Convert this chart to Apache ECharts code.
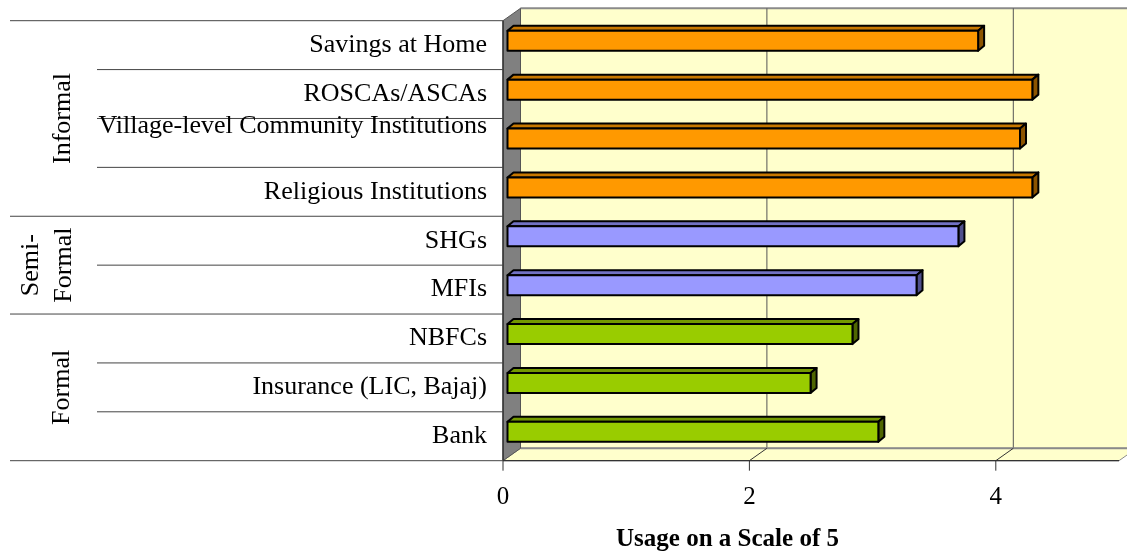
<!DOCTYPE html>
<html>
<head>
<meta charset="utf-8">
<script src="https://cdn.jsdelivr.net/npm/echarts@6/dist/echarts.min.js"></script>
<style>
  html, body { margin: 0; padding: 0; background: #fff; }
  #chart { width: 1127px; height: 557px; }
</style>
</head>
<body>
<div id="chart"></div>
<script>
const categories = ['Savings at Home', 'ROSCAs/ASCAs', 'Village-level Community Institutions', 'Religious Institutions', 'SHGs', 'MFIs', 'NBFCs', 'Insurance (LIC, Bajaj)', 'Bank'];
const usage = [3.82, 4.26, 4.16, 4.26, 3.66, 3.32, 2.80, 2.46, 3.01];
const groupNames = ['Informal', 'Semi-\nFormal', 'Formal'];
const groupOf = [0, 0, 0, 0, 1, 1, 2, 2, 2];
const xTicks = [0, 2, 4];

// styles
const FONT = '"Liberation Serif", "Times New Roman", serif';
const groupColors = [
    { front: '#FF9900', top: '#C87800', side: '#8C5400' },
    { front: '#9999FF', top: '#7272C4', side: '#50508C' },
    { front: '#99CC00', top: '#739900', side: '#4F6600' }
];
const groupLabelX = [63, 48, 62];
const DX = 17.5, DY = -12.4;          // depth of the walls
const BAR_OFF_X = 4.5, BAR_OFF_Y = -4.4;
const BAR_H = 20, BDX = 6, BDY = -5;

const chart = echarts.init(document.getElementById('chart'));

function renderWalls(params, api) {
    const cs = params.coordSys;
    const left = cs.x, top = cs.y, right = cs.x + cs.width, bottom = cs.y + cs.height;
    const children = [];
    // back wall
    children.push({ type: 'rect', shape: { x: left + DX, y: top + DY, width: cs.width, height: cs.height },
        style: { fill: '#FFFFCC' } });
    children.push({ type: 'line', shape: { x1: left + DX, y1: top + DY, x2: right + DX, y2: top + DY },
        style: { stroke: '#8a8a8a', lineWidth: 2 } });
    // back grid lines
    xTicks.forEach(t => {
        if (t === 0) return;
        const x = api.coord([t, 0])[0];
        children.push({ type: 'line', shape: { x1: x + DX, y1: top + DY, x2: x + DX, y2: bottom + DY },
            style: { stroke: '#555', lineWidth: 1 } });
    });
    // floor
    children.push({ type: 'polygon', shape: { points: [[left, bottom], [right, bottom], [right + DX, bottom + DY], [left + DX, bottom + DY]] },
        style: { fill: '#FFFFCC', stroke: '#8a8a8a', lineWidth: 1 } });
    children.push({ type: 'line', shape: { x1: left + DX, y1: bottom + DY, x2: right + DX, y2: bottom + DY },
        style: { stroke: '#8a8a8a', lineWidth: 2 } });
    xTicks.forEach(t => {
        const x = api.coord([t, 0])[0];
        if (t !== 0) {
            children.push({ type: 'line', shape: { x1: x, y1: bottom, x2: x + DX, y2: bottom + DY },
                style: { stroke: '#333', lineWidth: 1 } });
        }
        children.push({ type: 'line', shape: { x1: x, y1: bottom, x2: x, y2: bottom + 10 },
            style: { stroke: '#333', lineWidth: 1 } });
    });
    // side wall
    children.push({ type: 'polygon', shape: { points: [[left, top], [left + DX, top + DY], [left + DX, bottom + DY], [left, bottom]] },
        style: { fill: '#808080', stroke: '#555', lineWidth: 1 } });
    // front edges
    children.push({ type: 'line', shape: { x1: left, y1: top, x2: left, y2: bottom }, style: { stroke: '#222', lineWidth: 1.2 } });
    children.push({ type: 'line', shape: { x1: left, y1: bottom, x2: right, y2: bottom }, style: { stroke: '#333', lineWidth: 1.2 } });
    return { type: 'group', children };
}

function renderTable(params, api) {
    const cs = params.coordSys;
    const band = api.size([0, 1])[1];
    const children = [];
    const boundaryY = k => (k < categories.length ? api.coord([0, k])[1] - band / 2 : cs.y + cs.height);
    for (let k = 0; k <= categories.length; k++) {
        const isGroupEdge = k === 0 || k === categories.length || groupOf[k] !== groupOf[k - 1];
        const y = boundaryY(k);
        children.push({ type: 'line', shape: { x1: isGroupEdge ? 10 : 97, y1: y, x2: cs.x, y2: y },
            style: { stroke: '#444', lineWidth: 1 } });
    }
    groupNames.forEach((name, g) => {
        const first = groupOf.indexOf(g), last = groupOf.lastIndexOf(g);
        const y = (boundaryY(first) + boundaryY(last + 1)) / 2;
        children.push({ type: 'text', x: groupLabelX[g], y, rotation: Math.PI / 2,
            style: { text: name, fill: '#000', font: '26px ' + FONT, align: 'center', verticalAlign: 'middle', lineHeight: 33 } });
    });
    return { type: 'group', children };
}

function renderBar(params, api) {
    const v = api.value(0), i = api.value(1);
    const p0 = api.coord([0, i]), p1 = api.coord([v, i]);
    const c = groupColors[groupOf[i]];
    const x0 = p0[0] + BAR_OFF_X, x1 = p1[0] + BAR_OFF_X;
    const yt = p0[1] + BAR_OFF_Y - BAR_H / 2, yb = yt + BAR_H;
    const stroke = { stroke: '#000', lineWidth: 2, lineJoin: 'round' };
    return {
        type: 'group',
        children: [
            { type: 'polygon', shape: { points: [[x0, yt], [x1, yt], [x1 + BDX, yt + BDY], [x0 + BDX, yt + BDY]] },
              style: Object.assign({ fill: c.top }, stroke) },
            { type: 'polygon', shape: { points: [[x1, yt], [x1 + BDX, yt + BDY], [x1 + BDX, yb + BDY], [x1, yb]] },
              style: Object.assign({ fill: c.side }, stroke) },
            { type: 'rect', shape: { x: x0, y: yt, width: x1 - x0, height: BAR_H },
              style: Object.assign({ fill: c.front }, stroke) }
        ]
    };
}

const option = {
    animation: false,
    grid: { left: 503, right: 8, top: 20.7, bottom: 96.3, containLabel: false, outerBoundsMode: 'none' },
    xAxis: {
        type: 'value',
        min: 0,
        max: 5,
        interval: 2,
        z: 10,
        axisLine: { show: false },
        axisTick: { show: false },
        splitLine: { show: false },
        axisLabel: { show: true, showMaxLabel: false, margin: 24, color: '#000', fontFamily: FONT, fontSize: 25 },
        name: 'Usage on a Scale of 5',
        nameLocation: 'middle',
        nameGap: 66,
        nameTextStyle: { color: '#000', fontFamily: FONT, fontSize: 25, fontWeight: 'bold', padding: [0, 167, 0, 0] }
    },
    yAxis: {
        type: 'category',
        data: categories,
        inverse: true,
        z: 10,
        axisLine: { show: false },
        axisTick: { show: false },
        splitLine: { show: false },
        axisLabel: {
            interval: 0,
            margin: 16,
            color: '#000',
            fontFamily: FONT,
            fontSize: 26,
            lineHeight: 34,
            formatter: value => (value === 'Village-level Community Institutions' ? value + '\n ' : value)
        }
    },
    series: [
        { type: 'custom', silent: true, z: 1, clip: false, data: [[0, 0]], renderItem: renderWalls },
        { type: 'custom', silent: true, z: 1, clip: false, data: [[0, 0]], renderItem: renderTable },
        {
            type: 'custom', z: 3, clip: false,
            data: usage.map((v, i) => [v, i]),
            encode: { x: 0, y: 1 },
            renderItem: renderBar
        }
    ]
};

chart.setOption(option);
</script>
</body>
</html>
